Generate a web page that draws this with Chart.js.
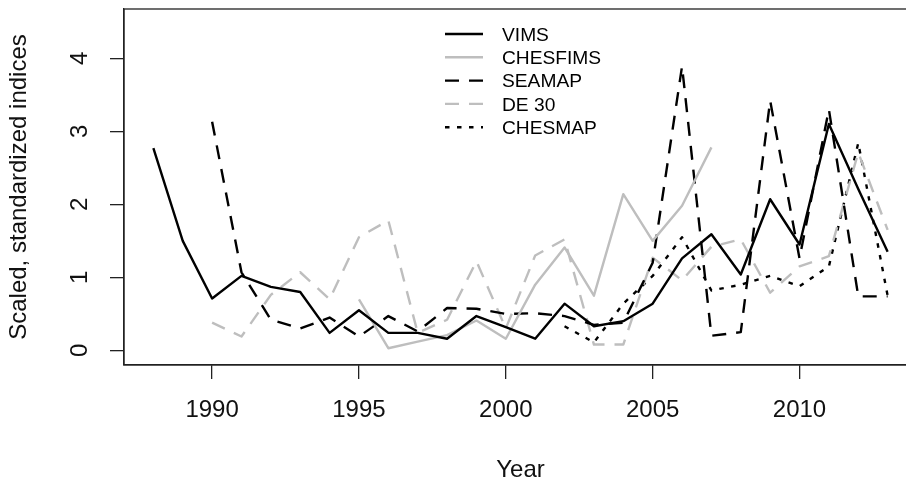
<!DOCTYPE html>
<html>
<head>
<meta charset="utf-8">
<title>Scaled, standardized indices</title>
<script src="https://cdn.jsdelivr.net/npm/chart.js@4.4.1/dist/chart.umd.min.js"></script>
<style>
  html, body { margin: 0; padding: 0; background: #fff; overflow: hidden; }
  #wrap { width: 918px; height: 485px; }
</style>
</head>
<body>
<div id="wrap"><canvas id="chart" width="918" height="485"></canvas></div>
<script>
// Données (indices mis à l'échelle)
const vimsYears = [1988, 1989, 1990, 1991, 1992, 1993, 1994, 1995, 1996, 1997, 1998, 1999, 2000,
                   2001, 2002, 2003, 2004, 2005, 2006, 2007, 2008, 2009, 2010, 2011, 2012, 2013];
const vimsValues = [2.77, 1.50, 0.71, 1.02, 0.87, 0.80, 0.24, 0.55, 0.24, 0.24, 0.16, 0.47, 0.32,
                    0.16, 0.64, 0.33, 0.40, 0.64, 1.26, 1.59, 1.04, 2.07, 1.45, 3.10, 2.21, 1.35];

const chesfimsYears = [1995, 1996, 1997, 1998, 1999, 2000, 2001, 2002, 2003, 2004, 2005, 2006, 2007];
const chesfimsValues = [0.70, 0.03, 0.12, 0.21, 0.41, 0.16, 0.90, 1.41, 0.75, 2.14, 1.50, 1.98, 2.78];

const seamapYears = [1990, 1991, 1992, 1993, 1994, 1995, 1996, 1997, 1998, 1999, 2000, 2001,
                     2002, 2003, 2004, 2005, 2006, 2007, 2008, 2009, 2010, 2011, 2012, 2013];
const seamapValues = [3.13, 1.07, 0.42, 0.30, 0.45, 0.19, 0.47, 0.26, 0.58, 0.57, 0.50, 0.51,
                      0.47, 0.35, 0.38, 1.20, 3.89, 0.20, 0.25, 3.42, 1.26, 3.30, 0.74, 0.74];

const de30Years = [1990, 1991, 1992, 1993, 1994, 1995, 1996, 1997, 1998, 1999, 2000, 2001,
                   2002, 2003, 2004, 2005, 2006, 2007, 2008, 2009, 2010, 2011, 2012, 2013];
const de30Values = [0.38, 0.19, 0.76, 1.07, 0.70, 1.55, 1.78, 0.24, 0.42, 1.22, 0.30, 1.30,
                    1.52, 0.08, 0.08, 1.27, 0.96, 1.42, 1.52, 0.79, 1.15, 1.29, 2.71, 1.65];

const chesmapYears = [2002, 2003, 2004, 2005, 2006, 2007, 2008, 2009, 2010, 2011, 2012, 2013];
const chesmapValues = [0.33, 0.11, 0.64, 1.02, 1.55, 0.82, 0.90, 1.02, 0.88, 1.15, 2.84, 0.75];

// Graduations des axes
const xTickValues = [1990, 1995, 2000, 2005, 2010];
const yTickValues = [0, 1, 2, 3, 4];

const FONT = '"Liberation Sans", Arial, sans-serif';
const AXIS = '#222';
const GRIS = '#bebebe';

// Construit les points {x, y} d'une série
const points = (years, values) => years.map((x, i) => ({ x: x, y: values[i] }));

const serie = (label, years, values, color, dash) => ({
  label: label,
  data: points(years, values),
  borderColor: color,
  backgroundColor: color,
  borderWidth: 2.4,
  borderDash: dash,
  borderJoinStyle: 'round',
  pointRadius: 0,
  tension: 0,
  fill: false
});

// Cadre complet autour de la zone de tracé (comme box() dans R)
const cadre = {
  id: 'cadre',
  afterDatasetsDraw(chart) {
    const { ctx, chartArea: a } = chart;
    ctx.save();
    ctx.strokeStyle = AXIS;
    ctx.lineWidth = 1.3;
    ctx.strokeRect(a.left, a.top, a.right - a.left, a.bottom - a.top);
    ctx.restore();
  }
};

// Légende à la manière de R, en haut au centre
const legende = {
  id: 'legende',
  afterDraw(chart) {
    const ctx = chart.ctx;
    ctx.save();
    ctx.font = '19.2px ' + FONT;
    ctx.textBaseline = 'middle';
    ctx.textAlign = 'left';
    chart.data.datasets.forEach((ds, i) => {
      const y = 35.5 + i * 23.3;
      ctx.strokeStyle = ds.borderColor;
      ctx.lineWidth = ds.borderWidth;
      ctx.setLineDash(ds.borderDash || []);
      ctx.beginPath();
      ctx.moveTo(445, y - 1.5);
      ctx.lineTo(483, y - 1.5);
      ctx.stroke();
      ctx.setLineDash([]);
      ctx.fillStyle = '#000';
      ctx.fillText(ds.label, 502, y);
    });
    ctx.restore();
  }
};

new Chart(document.getElementById('chart'), {
  type: 'line',
  data: {
    datasets: [
      serie('VIMS', vimsYears, vimsValues, '#000', []),
      serie('CHESFIMS', chesfimsYears, chesfimsValues, GRIS, []),
      serie('SEAMAP', seamapYears, seamapValues, '#000', [14, 10]),
      serie('DE 30', de30Years, de30Values, GRIS, [14, 10]),
      serie('CHESMAP', chesmapYears, chesmapValues, '#000', [4.5, 7.5])
    ]
  },
  options: {
    responsive: false,
    animation: false,
    layout: { padding: { left: 0, top: 9, right: 1, bottom: 0 } },
    plugins: {
      legend: { display: false },
      tooltip: { enabled: false }
    },
    scales: {
      x: {
        type: 'linear',
        min: 1987,
        max: 2014,
        afterBuildTicks: s => { s.ticks = xTickValues.map(v => ({ value: v })); },
        afterFit: s => { s.height = 120; s.paddingLeft = 0; s.paddingRight = 0; },
        grid: { drawOnChartArea: false, drawTicks: true, tickLength: 14, color: AXIS, lineWidth: 1.3 },
        border: { display: true, color: AXIS, width: 1.3 },
        ticks: {
          autoSkip: false, maxRotation: 0, padding: 17, color: '#111',
          font: { size: 24, family: FONT },
          callback: v => String(v)
        },
        title: {
          display: true, text: 'Year', color: '#111',
          font: { size: 24, family: FONT },
          padding: { top: 0, bottom: 0 }
        }
      },
      y: {
        type: 'linear',
        min: -0.2,
        max: 4.675,
        afterBuildTicks: s => { s.ticks = yTickValues.map(v => ({ value: v })); },
        afterFit: s => { s.width = 124; s.paddingTop = 0; s.paddingBottom = 0; },
        grid: { drawOnChartArea: false, drawTicks: true, tickLength: 14, color: AXIS, lineWidth: 1.3 },
        border: { display: true, color: AXIS, width: 1.3 },
        ticks: {
          autoSkip: false, minRotation: 90, maxRotation: 90, crossAlign: 'center',
          padding: 23, color: '#111',
          font: { size: 24, family: FONT },
          callback: v => String(v)
        },
        title: {
          display: true, text: 'Scaled, standardized indices', color: '#111',
          font: { size: 24, family: FONT },
          padding: { top: 5, bottom: 0 }
        }
      }
    }
  },
  plugins: [cadre, legende]
});
</script>
</body>
</html>
